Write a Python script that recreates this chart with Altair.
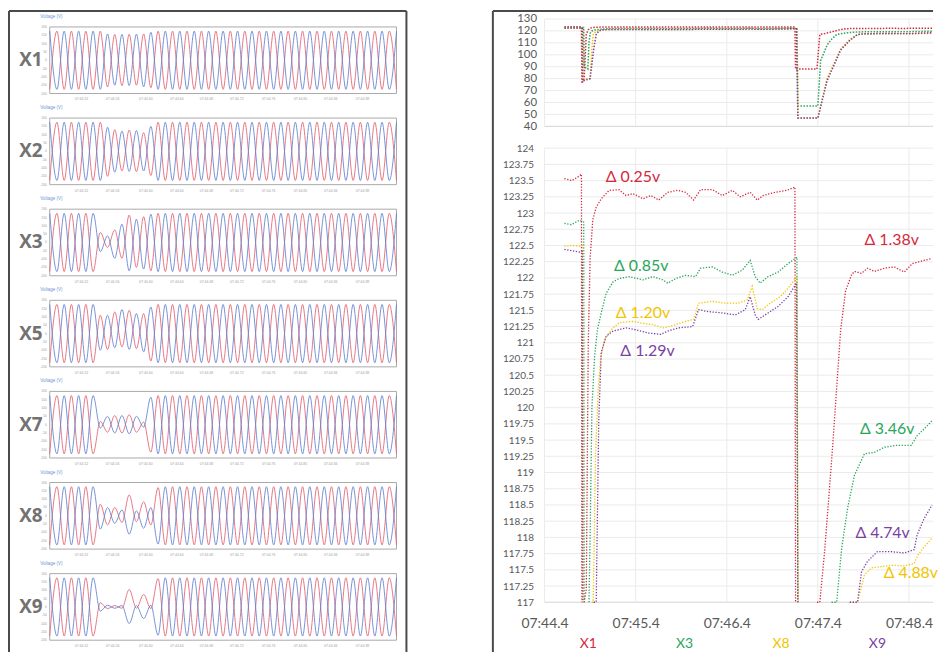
import altair as alt
import pandas as pd

# ======================= LEFT: waveform panels =======================
panels = ["X1", "X2", "X3", "X5", "X7", "X8", "X9"]
panel_titles = ["Voltage (V)"] * 7
wave_ticks = [200, 150, 100, 50, 0, -50, -100, -150, -200]
wave_time_labels = ["07:44.52", "07:44.56", "07:44.60", "07:44.64", "07:44.68",
                    "07:44.72", "07:44.76", "07:44.80", "07:44.84", "07:44.88"]
wave_time_pos = [4.4, 8.7, 13.3, 17.6, 21.7, 25.9, 30.3, 34.7, 38.9, 43.3]

# peak magnitudes (V) of each half cycle
X1_red = [175] * 8 + [160, 155, 152, 156, 150, 158, 165] + [175] * 34
X1_blue = [175] * 8 + [158, 150, 155, 152, 157, 160, 168] + [175] * 34
X2_red = [175] * 8 + [150, 130, 118, 128, 122, 112, 145] + [175] * 34
X2_blue = [175] * 8 + [145, 125, 122, 120, 125, 118, 150] + [175] * 34
X3_red = [175] * 7 + [60, 30, 75, 95, 165, 150, 155, 170] + [175] * 34
X3_blue = [175] * 7 + [55, 40, 95, 110, 170, 140, 160, 170] + [175] * 34
X5_red = [175] * 7 + [110, 95, 130, 80, 140, 90, 120, 165] + [175] * 34
X5_blue = [175] * 7 + [100, 110, 85, 145, 95, 120, 110, 160] + [175] * 34
X7_red = [175] * 7 + [20, 45, 55, 50, 60, 45, 15, 165] + [175] * 34
X7_blue = [175] * 7 + [20, 50, 50, 55, 55, 50, 15, 165] + [175] * 34
X8_red = [175] * 7 + [70, 55, 50, 40, 125, 35, 85, 55, 170] + [175] * 33
X8_blue = [175] * 7 + [80, 50, 45, 35, 110, 30, 75, 50, 170] + [175] * 33
X9_red = [175] * 7 + [25, 10, 8, 8, 105, 8, 75, 10, 170] + [175] * 33
X9_blue = [175] * 7 + [25, 10, 8, 8, 100, 8, 70, 10, 170] + [175] * 33

RED = dict(zip(panels, [X1_red, X2_red, X3_red, X5_red, X7_red, X8_red, X9_red]))
BLUE = dict(zip(panels, [X1_blue, X2_blue, X3_blue, X5_blue, X7_blue, X8_blue, X9_blue]))

# ---- layout of the left column (pixels) ----
LW, LH = 402, 646
BOX_X0, BOX_W = 42, 349
TOP_PX, BOX_PX, PITCH_PX = 17, 67, 91.7
n_last = len(X1_red) - 1
px_per = BOX_W / n_last
U = (max(wave_ticks) - min(wave_ticks)) / BOX_PX        # volts per pixel
center = {p: -(TOP_PX + BOX_PX / 2 + PITCH_PX * k) * U for k, p in enumerate(panels)}

rows = []
for p in panels:
    for phase, amps, first in (("A", RED[p], -1), ("B", BLUE[p], 1)):
        for i, a in enumerate(amps):
            v = a * (first if i % 2 == 0 else -first)
            rows.append({"panel": p, "phase": phase, "idx": i, "v": v, "y": center[p] + v})
waves = pd.DataFrame(rows)

x_left = alt.Scale(domain=[-BOX_X0 / px_per, (LW - BOX_X0) / px_per], nice=False, zero=False)
y_left = alt.Scale(domain=[-LH * U, 0], nice=False, zero=False)

boxes = pd.DataFrame({"panel": panels, "x0": 0, "x1": n_last,
                      "y0": [center[p] + min(wave_ticks) for p in panels],
                      "y1": [center[p] + max(wave_ticks) for p in panels],
                      "yc": [center[p] for p in panels], "xl": -1.0, "xt": -1.3})
box_layer = alt.Chart(boxes).mark_rect(fill="white", stroke="#a9a9a9", strokeWidth=1).encode(
    x=alt.X("x0:Q", scale=x_left, axis=None), x2="x1:Q",
    y=alt.Y("y0:Q", scale=y_left, axis=None), y2="y1:Q")

wave_layer = alt.Chart(waves).mark_line(interpolate="monotone", strokeWidth=1.0, opacity=0.85).encode(
    x=alt.X("idx:Q", scale=x_left, axis=None),
    y=alt.Y("y:Q", scale=y_left, axis=None),
    color=alt.Color("phase:N", scale=alt.Scale(domain=["A", "B"], range=["#e2606f", "#5f80cf"]), legend=None),
    detail="panel:N", order="idx:Q")

name_layer = alt.Chart(boxes).mark_text(fontSize=19, fontWeight="bold", color="#727272", font="Open Sans",
                                        align="right", baseline="middle").encode(
    x=alt.X("xl:Q", scale=x_left, axis=None), y=alt.Y("yc:Q", scale=y_left, axis=None), text="panel:N")

title_layer = alt.Chart(boxes.assign(title=panel_titles)).mark_text(
    fontSize=4.5, color="#6d95d6", align="left", baseline="middle", dy=-10).encode(
    x=alt.X("xt:Q", scale=x_left, axis=None), y=alt.Y("y1:Q", scale=y_left, axis=None), text="title:N")

tick_df = pd.DataFrame([{"y": center[p] + t, "txt": str(t), "xp": -0.4} for p in panels for t in wave_ticks])
tick_layer = alt.Chart(tick_df).mark_text(fontSize=3.2, color="#9a9a9a", align="right", baseline="middle").encode(
    x=alt.X("xp:Q", scale=x_left, axis=None), y=alt.Y("y:Q", scale=y_left, axis=None), text="txt:N")

tl_df = pd.DataFrame([{"pos": x, "lab": l, "y": center[p] + min(wave_ticks)} for p in panels
                      for x, l in zip(wave_time_pos, wave_time_labels)])
tl_layer = alt.Chart(tl_df).mark_text(fontSize=3.5, color="#a0a0a0", baseline="middle", dy=6).encode(
    x=alt.X("pos:Q", scale=x_left, axis=None), y=alt.Y("y:Q", scale=y_left, axis=None), text="lab:N")

one = pd.DataFrame({"k": [0]})
FRAME = "#4a4a4a"
lf1 = alt.Chart(one).mark_rule(color=FRAME, strokeWidth=2).encode(x=alt.value(1), y=alt.value(1), y2=alt.value(LH))
lf2 = alt.Chart(one).mark_rule(color=FRAME, strokeWidth=2).encode(x=alt.value(1), x2=alt.value(LW - 1), y=alt.value(1))
lf3 = alt.Chart(one).mark_rule(color=FRAME, strokeWidth=2).encode(x=alt.value(LW - 1), y=alt.value(1), y2=alt.value(LH))

left = alt.layer(box_layer, wave_layer, name_layer, title_layer, tick_layer, tl_layer, lf1, lf2, lf3).properties(
    width=LW, height=LH)

# ======================= RIGHT: RMS voltage =======================
series_names = ["X1", "X3", "X8", "X9"]
series_colors = ["#d42a3c", "#27a65a", "#f2c400", "#7a3fa3"]
x_ticks = [0, 1, 2, 3, 4]  # seconds after 07:44.4
x_tick_labels = ["07:44.4", "07:45.4", "07:46.4", "07:47.4", "07:48.4"]
y_top_ticks = [40, 50, 60, 70, 80, 90, 100, 110, 120, 130]
y_main_ticks = [117, 117.25, 117.5, 117.75, 118, 118.25, 118.5, 118.75, 119, 119.25, 119.5,
                119.75, 120, 120.25, 120.5, 120.75, 121, 121.25, 121.5, 121.75, 122, 122.25,
                122.5, 122.75, 123, 123.25, 123.5, 123.75, 124]

X1_t = [0.218, 0.30, 0.36, 0.405, 0.41, 0.435, 0.458, 0.48, 0.50, 0.53, 0.567, 0.622, 0.709, 0.818,
        0.894, 0.971, 1.08, 1.166, 1.254, 1.352, 1.461, 1.549, 1.636, 1.712, 1.843, 1.952, 2.061,
        2.148, 2.257, 2.334, 2.399, 2.530, 2.661, 2.748, 2.755, 2.99, 3.021, 3.075, 3.119, 3.162,
        3.206, 3.250, 3.304, 3.370, 3.402, 3.479, 3.544, 3.620, 3.730, 3.839, 3.948, 4.035, 4.166, 4.253]
X1_v = [123.53, 123.5, 123.55, 123.6, 76, 80, 117.2, 121.0, 122.3, 122.9, 123.09, 123.22, 123.35,
        123.36, 123.27, 123.3, 123.22, 123.27, 123.2, 123.32, 123.35, 123.32, 123.2, 123.36, 123.36,
        123.27, 123.35, 123.25, 123.32, 123.2, 123.27, 123.32, 123.35, 123.4, 88, 88, 117.0, 117.8,
        118.6, 119.4, 120.3, 121.2, 121.8, 122.05, 122.1, 122.07, 122.15, 122.1, 122.15, 122.17,
        122.09, 122.22, 122.27, 122.3]
X3_t = [0.218, 0.294, 0.382, 0.43, 0.435, 0.475, 0.488, 0.50, 0.52, 0.55, 0.58, 0.622, 0.676, 0.752,
        0.818, 0.927, 1.08, 1.189, 1.298, 1.352, 1.439, 1.549, 1.658, 1.712, 1.843, 1.952, 2.061,
        2.170, 2.257, 2.312, 2.366, 2.454, 2.563, 2.672, 2.770, 2.78, 3.0, 3.03, 3.10, 3.15, 3.206,
        3.261, 3.326, 3.402, 3.511, 3.620, 3.730, 3.871, 4.024, 4.090, 4.166, 4.253]
X3_v = [122.84, 122.82, 122.89, 122.86, 90, 88, 110, 118.0, 120.0, 120.8, 121.2, 121.46, 121.76,
        121.94, 121.99, 122.02, 121.97, 122.02, 121.97, 121.92, 121.99, 122.04, 122.02, 122.15,
        122.17, 122.09, 122.04, 122.12, 122.27, 122.02, 121.92, 122.02, 122.09, 122.22, 122.32, 57,
        57, 95, 108, 113, 117.0, 117.83, 118.45, 118.96, 119.29, 119.31, 119.39, 119.42, 119.42,
        119.57, 119.67, 119.8]
X8_t = [0.218, 0.30, 0.382, 0.42, 0.425, 0.50, 0.52, 0.534, 0.56, 0.59, 0.62, 0.66, 0.731, 0.818,
        0.971, 1.08, 1.189, 1.308, 1.439, 1.549, 1.636, 1.690, 1.843, 1.985, 2.127, 2.225, 2.279,
        2.334, 2.388, 2.476, 2.585, 2.672, 2.770, 2.785, 3.0, 3.10, 3.25, 3.35, 3.435, 3.511, 3.588,
        3.697, 3.82, 3.95, 4.057, 4.10, 4.166, 4.253]
X8_v = [122.49, 122.5, 122.49, 122.5, 80, 80, 105, 117.0, 119.3, 120.3, 120.8, 121.05, 121.2, 121.31,
        121.33, 121.3, 121.28, 121.23, 121.28, 121.33, 121.36, 121.61, 121.64, 121.61, 121.61,
        121.66, 121.87, 121.53, 121.51, 121.61, 121.71, 121.84, 122.02, 47, 47, 80, 105, 113, 117.0,
        117.42, 117.53, 117.55, 117.57, 117.56, 117.6, 117.73, 117.85, 117.99]
X9_t = [0.218, 0.30, 0.382, 0.415, 0.42, 0.50, 0.54, 0.567, 0.595, 0.622, 0.676, 0.752, 0.894, 1.003,
        1.145, 1.276, 1.352, 1.472, 1.625, 1.690, 1.799, 1.952, 2.094, 2.203, 2.257, 2.312, 2.345,
        2.454, 2.563, 2.672, 2.765, 2.78, 3.0, 3.10, 3.25, 3.35, 3.435, 3.479, 3.544, 3.653, 3.806,
        3.948, 4.057, 4.090, 4.166, 4.253]
X9_v = [122.44, 122.42, 122.40, 122.41, 78, 80, 105, 117.0, 119.8, 120.85, 121.1, 121.18, 121.23,
        121.2, 121.15, 121.13, 121.18, 121.23, 121.25, 121.51, 121.48, 121.46, 121.43, 121.51,
        121.71, 121.43, 121.36, 121.46, 121.56, 121.71, 121.92, 47, 47, 78, 104, 112, 117.0, 117.47,
        117.63, 117.78, 117.78, 117.76, 117.81, 118.04, 118.29, 118.5]

annotations = [("Δ 0.25v", "X1", 0.97, 123.55), ("Δ 0.85v", "X3", 1.06, 122.18),
               ("Δ 1.20v", "X8", 1.08, 121.46), ("Δ 1.29v", "X9", 1.13, 120.88),
               ("Δ 1.38v", "X1", 3.81, 122.58), ("Δ 3.46v", "X3", 3.76, 119.67),
               ("Δ 4.74v", "X9", 3.71, 118.06), ("Δ 4.88v", "X8", 4.02, 117.45)]

SERIES = {"X1": (X1_t, X1_v), "X3": (X3_t, X3_v), "X8": (X8_t, X8_v), "X9": (X9_t, X9_v)}

RW, RH = 444, 646
PLOT_X0 = 53
SEC_PX = 91.7
T_MIN = -PLOT_X0 / SEC_PX
T_MAX = T_MIN + RW / SEC_PX
LO = y_main_ticks[0]

top_rows, main_rows = [], []
for name in series_names:
    ts, vs = SERIES[name]
    seg = 0
    for i, (t, v) in enumerate(zip(ts, vs)):
        top_rows.append({"series": name, "t": t, "v": v})
        out = v < LO
        prev_out = i > 0 and vs[i - 1] < LO
        next_out = i < len(vs) - 1 and vs[i + 1] < LO
        if out and prev_out and next_out:
            continue
        if out and prev_out:
            seg += 1
        main_rows.append({"series": name, "seg": f"{name}-{seg}", "t": t, "v": v})
top_df = pd.DataFrame(top_rows)
main_df = pd.DataFrame(main_rows)

xs = alt.Scale(domain=[T_MIN, T_MAX], nice=False, zero=False)
yt = alt.Scale(domain=[y_top_ticks[0], y_top_ticks[-1]], range=[117, 9], nice=False, zero=False)
ym = alt.Scale(domain=[y_main_ticks[0], y_main_ticks[-1]], range=[596, 139], nice=False, zero=False, clamp=True)
cscale = alt.Scale(domain=series_names, range=series_colors)

top_h = pd.DataFrame({"g": y_top_ticks, "x0": x_ticks[0], "x1": T_MAX})
main_h = pd.DataFrame({"g": y_main_ticks, "x0": x_ticks[0], "x1": T_MAX})
top_v = pd.DataFrame({"t": x_ticks, "y0": y_top_ticks[0], "y1": y_top_ticks[-1]})
main_v = pd.DataFrame({"t": x_ticks, "y0": y_main_ticks[0], "y1": y_main_ticks[-1]})

grid_c = "#ebebeb"
g1 = alt.Chart(top_h).mark_rule(strokeWidth=1).encode(
    x=alt.X("x0:Q", scale=xs, axis=None), x2="x1:Q", y=alt.Y("g:Q", scale=yt, axis=None),
    color=alt.condition(alt.datum.g == y_top_ticks[0], alt.value("#d4d4d4"), alt.value(grid_c)))
g2 = alt.Chart(top_v).mark_rule(strokeWidth=1, color=grid_c).encode(
    x=alt.X("t:Q", scale=xs, axis=None), y=alt.Y("y0:Q", scale=yt, axis=None), y2="y1:Q")
g3 = alt.Chart(main_h).mark_rule(strokeWidth=1).encode(
    x=alt.X("x0:Q", scale=xs, axis=None), x2="x1:Q", y=alt.Y("g:Q", scale=ym, axis=None),
    color=alt.condition(alt.datum.g == y_main_ticks[0], alt.value("#d4d4d4"), alt.value(grid_c)))
g4 = alt.Chart(main_v).mark_rule(strokeWidth=1, color=grid_c).encode(
    x=alt.X("t:Q", scale=xs, axis=None), y=alt.Y("y0:Q", scale=ym, axis=None), y2="y1:Q")

top_lines = alt.Chart(top_df).mark_line(strokeDash=[1.5, 1.5], strokeWidth=1.5).encode(
    x=alt.X("t:Q", scale=xs, axis=None),
    y=alt.Y("v:Q", scale=yt, axis=alt.Axis(orient="left", values=y_top_ticks, offset=-50, domain=False,
                                           ticks=False, grid=False, labelPadding=5, labelFontSize=11.5,
                                           labelOverlap=False, labelColor="#595959", labelFont="Lato",
                                           title=None)),
    color=alt.Color("series:N", scale=cscale, legend=None))

label_expr = "[" + ",".join(f"'{l}'" for l in x_tick_labels) + "][datum.value]"
main_lines = alt.Chart(main_df).mark_line(strokeDash=[1.3, 1.6], strokeWidth=1.3).encode(
    x=alt.X("t:Q", scale=xs, axis=alt.Axis(orient="bottom", values=x_ticks, labelExpr=label_expr,
                                           offset=-(RH - 596), domain=False, ticks=False, grid=False,
                                           labelPadding=14, labelFontSize=14, labelColor="#595959",
                                           labelOverlap=False, labelFont="Lato", title=None)),
    y=alt.Y("v:Q", scale=ym, axis=alt.Axis(orient="left", values=y_main_ticks, format=".5~g", offset=-50,
                                           domain=False, ticks=False, grid=False, labelPadding=8,
                                           labelFontSize=10, labelColor="#595959", labelFont="Lato",
                                           labelOverlap=False, title=None)),
    color=alt.Color("series:N", scale=cscale, legend=None),
    detail="seg:N")

ann_df = pd.DataFrame(annotations, columns=["label", "series", "t", "v"])
ann = alt.Chart(ann_df).mark_text(fontSize=16, font="Lato").encode(
    x=alt.X("t:Q", scale=xs, axis=None), y=alt.Y("v:Q", scale=ym, axis=None), text="label:N",
    color=alt.Color("series:N", scale=cscale, legend=None))

leg_df = pd.DataFrame({"series": series_names})
leg = alt.Chart(leg_df).mark_text(fontSize=14, font="Lato", baseline="middle").encode(
    x=alt.X("series:N", scale=alt.Scale(type="point", domain=series_names, range=[97, 388], padding=0), axis=None),
    y=alt.value(RH - 8), text="series:N",
    color=alt.Color("series:N", scale=cscale, legend=None))

rf1 = alt.Chart(one).mark_rule(color=FRAME, strokeWidth=2).encode(x=alt.value(1), y=alt.value(1), y2=alt.value(RH))
rf2 = alt.Chart(one).mark_rule(color=FRAME, strokeWidth=2).encode(x=alt.value(1), x2=alt.value(RW), y=alt.value(1))

right = alt.layer(g1, g2, g3, g4, top_lines, main_lines, ann, leg, rf1, rf2).resolve_scale(
    x="independent", y="independent").properties(width=RW, height=RH)

chart = alt.hconcat(left, right, spacing=85).resolve_scale(color="independent").properties(
    padding=0, background="white").configure_view(stroke=None)

chart.save("out.html", embed_options={"renderer": "svg", "actions": False})
